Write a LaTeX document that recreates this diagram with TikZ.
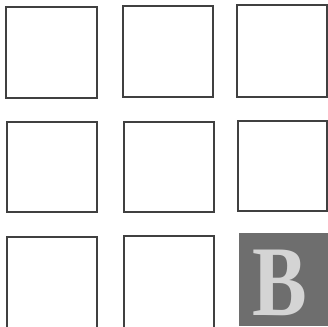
\documentclass[tikz,border=0pt]{standalone}
\usepackage{fontspec}
\setmainfont{Liberation Serif}
\begin{document}
\begin{tikzpicture}[x=1pt,y=-1pt,
  box/.style={draw=black!75,line width=1.1pt,fill=white,inner sep=0pt,outer sep=0pt},
  darkbox/.style={fill=black!57,draw=none,inner sep=0pt,outer sep=0pt}]
\useasboundingbox (0,0) rectangle (328,326);
\fill[white] (0,0) rectangle (328,326);
\node[box,minimum width=91pt,minimum height=91pt,anchor=north west] (b11) at (6,7) {};
\node[box,minimum width=90pt,minimum height=91pt,anchor=north west] (b12) at (123,6) {};
\node[box,minimum width=90pt,minimum height=92pt,anchor=north west] (b13) at (237,5) {};
\node[box,minimum width=90pt,minimum height=90pt,anchor=north west] (b21) at (7,122) {};
\node[box,minimum width=90pt,minimum height=90pt,anchor=north west] (b22) at (124,122) {};
\node[box,minimum width=89pt,minimum height=90pt,anchor=north west] (b23) at (238,121) {};
\node[box,minimum width=90pt,minimum height=95pt,anchor=north west] (b31) at (7,237) {};
\node[box,minimum width=90pt,minimum height=95pt,anchor=north west] (b32) at (124,236) {};
\node[darkbox,minimum width=89pt,minimum height=93pt,anchor=north west] (b33) at (239,233) {};
\node[text=black!17,font=\fontsize{100}{100}\selectfont\bfseries,inner sep=0pt,anchor=base,xscale=0.82] (letter) at (280,315) {B};
\end{tikzpicture}
\end{document}
